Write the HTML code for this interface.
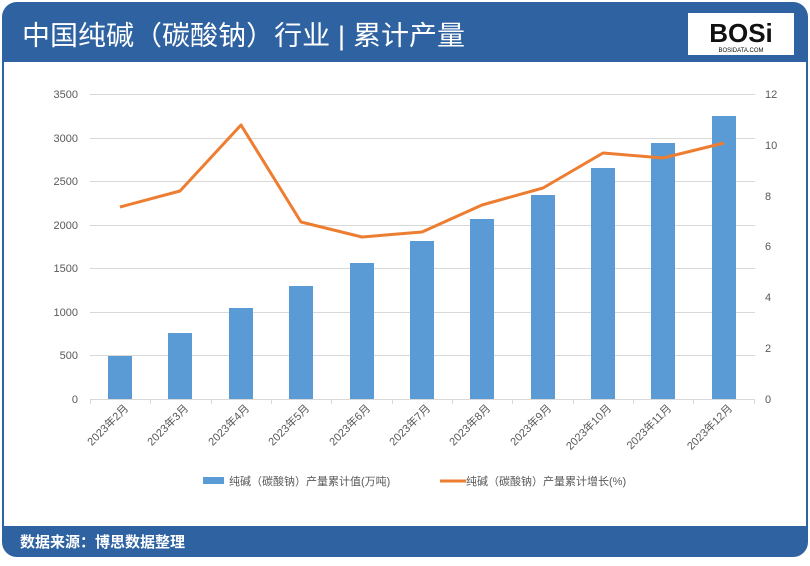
<!DOCTYPE html>
<html><head><meta charset="utf-8"><style>
body{margin:0;background:#fff;width:810px;height:561px;overflow:hidden;font-family:"Liberation Sans","Noto Sans CJK SC",sans-serif}
</style></head><body>
<svg width="810" height="561" xmlns="http://www.w3.org/2000/svg" font-family="Liberation Sans, Noto Sans CJK SC, sans-serif">
<rect x="3" y="3" width="804" height="553" rx="14" fill="#fff" stroke="#2f62a0" stroke-width="2"/>
<path d="M3 62 V17 Q3 3 17 3 H793 Q807 3 807 17 V62 Z" fill="#2f62a0"/>
<path d="M3 526 H807 V542 Q807 556 793 556 H17 Q3 556 3 542 Z" fill="#2f62a0"/>
<text x="22" y="45" font-size="27" fill="#fff" textLength="443" lengthAdjust="spacingAndGlyphs">中国纯碱（碳酸钠）行业 | 累计产量</text>
<rect x="688" y="13" width="106" height="42" fill="#fff"/>
<text x="741" y="42" font-size="26" font-weight="bold" fill="#111" text-anchor="middle">BOSi</text>
<text x="741" y="52" font-size="6" fill="#111" text-anchor="middle">BOSIDATA.COM</text>
<text x="20" y="547" font-size="15" font-weight="bold" fill="#fff">数据来源：博思数据整理</text>
<g stroke="#d9d9d9" stroke-width="1">
<line x1="90" x2="755" y1="94.5" y2="94.5"/><line x1="90" x2="755" y1="138.5" y2="138.5"/><line x1="90" x2="755" y1="181.5" y2="181.5"/><line x1="90" x2="755" y1="225.5" y2="225.5"/><line x1="90" x2="755" y1="268.5" y2="268.5"/><line x1="90" x2="755" y1="312.5" y2="312.5"/><line x1="90" x2="755" y1="355.5" y2="355.5"/><line x1="90" x2="755" y1="399.5" y2="399.5"/>
</g>
<g stroke="#d9d9d9"><line x1="90.5" x2="90.5" y1="399" y2="404"/><line x1="150.5" x2="150.5" y1="399" y2="404"/><line x1="211.5" x2="211.5" y1="399" y2="404"/><line x1="271.5" x2="271.5" y1="399" y2="404"/><line x1="331.5" x2="331.5" y1="399" y2="404"/><line x1="392.5" x2="392.5" y1="399" y2="404"/><line x1="452.5" x2="452.5" y1="399" y2="404"/><line x1="512.5" x2="512.5" y1="399" y2="404"/><line x1="573.5" x2="573.5" y1="399" y2="404"/><line x1="633.5" x2="633.5" y1="399" y2="404"/><line x1="693.5" x2="693.5" y1="399" y2="404"/><line x1="754.5" x2="754.5" y1="399" y2="404"/></g>
<g font-size="11" fill="#595959" text-anchor="end">
<text x="78" y="98">3500</text><text x="78" y="142">3000</text><text x="78" y="185">2500</text><text x="78" y="229">2000</text><text x="78" y="272">1500</text><text x="78" y="316">1000</text><text x="78" y="359">500</text><text x="78" y="403">0</text>
</g>
<g font-size="11" fill="#595959">
<text x="765" y="98">12</text><text x="765" y="149">10</text><text x="765" y="200">8</text><text x="765" y="250">6</text><text x="765" y="301">4</text><text x="765" y="352">2</text><text x="765" y="403">0</text>
</g>
<g fill="#5b9bd5">
<rect x="108" y="356" width="24" height="43"/>
<rect x="168" y="333" width="24" height="66"/>
<rect x="229" y="308" width="24" height="91"/>
<rect x="289" y="286" width="24" height="113"/>
<rect x="350" y="263" width="24" height="136"/>
<rect x="410" y="241" width="24" height="158"/>
<rect x="470" y="219" width="24" height="180"/>
<rect x="531" y="195" width="24" height="204"/>
<rect x="591" y="168" width="24" height="231"/>
<rect x="651" y="143" width="24" height="256"/>
<rect x="712" y="116" width="24" height="283"/>
</g>
<polyline fill="none" stroke="#ed7d31" stroke-width="3" stroke-linejoin="round" points="120,207 180,191 241,125 301,222 362,237 422,232 482,205 543,188 603,153 663,158 724,143"/>
<g font-size="11" fill="#595959" text-anchor="end">
<text transform="translate(129,409) rotate(-45)">2023年2月</text>
<text transform="translate(189,409) rotate(-45)">2023年3月</text>
<text transform="translate(250,409) rotate(-45)">2023年4月</text>
<text transform="translate(310,409) rotate(-45)">2023年5月</text>
<text transform="translate(371,409) rotate(-45)">2023年6月</text>
<text transform="translate(431,409) rotate(-45)">2023年7月</text>
<text transform="translate(491,409) rotate(-45)">2023年8月</text>
<text transform="translate(552,409) rotate(-45)">2023年9月</text>
<text transform="translate(612,409) rotate(-45)">2023年10月</text>
<text transform="translate(672,409) rotate(-45)">2023年11月</text>
<text transform="translate(733,409) rotate(-45)">2023年12月</text>
</g>
<rect x="203" y="477" width="21" height="7" fill="#5b9bd5"/>
<text x="229" y="485" font-size="11" fill="#595959">纯碱（碳酸钠）产量累计值(万吨)</text>
<line x1="440" x2="466" y1="481" y2="481" stroke="#ed7d31" stroke-width="3"/>
<text x="466" y="485" font-size="11" fill="#595959">纯碱（碳酸钠）产量累计增长(%)</text>
</svg>
</body></html>
